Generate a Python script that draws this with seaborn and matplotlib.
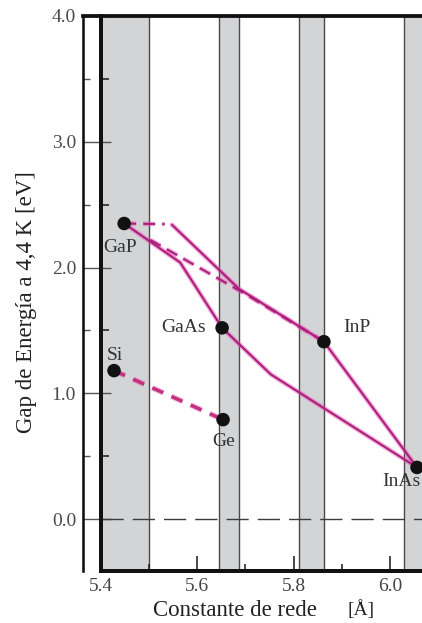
import matplotlib
matplotlib.use("Agg")
import matplotlib.pyplot as plt
import seaborn as sns
import pandas as pd

# --- data -----------------------------------------------------------------
compounds = ["Si", "Ge", "GaP", "GaAs", "InP", "InAs"]
lattice = [5.428, 5.654, 5.449, 5.652, 5.863, 6.056]     # Å
gap_ev = [1.18, 0.79, 2.35, 1.52, 1.41, 0.41]            # eV at 4.4 K

# alloy boundaries
gap_gaas_a = [5.449, 5.565, 5.652]
gap_gaas_e = [2.35, 2.04, 1.52]
gaas_inas_a = [5.652, 5.753, 6.056]
gaas_inas_e = [1.52, 1.15, 0.41]
inp_inas_a = [5.863, 6.056]
inp_inas_e = [1.41, 0.41]
gap_inp_upper_dash_a = [5.449, 5.533]
gap_inp_upper_dash_e = [2.35, 2.345]
gap_inp_upper_a = [5.548, 5.687, 5.863]
gap_inp_upper_e = [2.34, 1.83, 1.41]
gap_inp_lower_a = [5.503, 5.700, 5.863]
gap_inp_lower_e = [2.22, 1.79, 1.41]
si_ge_a = [5.428, 5.654]
si_ge_e = [1.18, 0.79]

# substrate lattice-constant windows
bands = [(5.40, 5.50), (5.645, 5.687), (5.811, 5.863), (6.029, 6.10)]

xticks_major = [5.4, 5.6, 5.8, 6.0]
xticks_minor = [5.5, 5.7, 5.9]
yticks_major = [0.0, 1.0, 2.0, 3.0, 4.0]
yticks_minor = [0.5, 1.5, 2.5, 3.5]

# --- style ----------------------------------------------------------------
sns.set_theme(style="white")
plt.rcParams["font.family"] = ["Liberation Serif", "DejaVu Serif"]
plt.rcParams["lines.scale_dashes"] = True

px = 72 / 100  # points per pixel at dpi 100

fig = plt.figure(figsize=(4.22, 6.23), dpi=100)
fig.patch.set_facecolor("white")
ax_rect = [83 / 422, 52 / 623, 339 / 422, 555 / 623]
ax = fig.add_axes(ax_rect)
ax.set_facecolor("white")

xmin, xmax = 5.3637, 6.0663
ymin, ymax = -0.4135, 4.0
ax.set_xlim(xmin, xmax)
ax.set_ylim(ymin, ymax)

# grey windows
for lo, hi in bands:
    ax.axvspan(lo, hi, facecolor="#d3d4d6", edgecolor="#4a4a4a",
               lw=1.4 * px, zorder=0)

# zero-energy reference
ax.axhline(0.0, xmin=(5.4 - xmin) / (xmax - xmin), color="#3c3c3c",
           lw=1.0, linestyle=(0, (16, 6.5)), zorder=1)

# alloy curves: a pink halo under a darker magenta core
halo = "#ec4ab4"
core = "#a81f78"


def dash(on_px, off_px, lw_px):
    lw_pt = lw_px * px
    return (0, (on_px * px / lw_pt, off_px * px / lw_pt))


def curve(a, e, dashed=False, core_w=2.0, halo_w=4.6, on=12, off=7,
          core_c=core, halo_c=halo, halo_alpha=0.5):
    ls_h = dash(on, off, halo_w) if dashed else "-"
    ls_c = dash(on, off, core_w) if dashed else "-"
    sns.lineplot(x=a, y=e, sort=False, estimator=None, ax=ax, color=halo_c,
                 lw=halo_w * px, alpha=halo_alpha, linestyle=ls_h, zorder=2)
    sns.lineplot(x=a, y=e, sort=False, estimator=None, ax=ax, color=core_c,
                 lw=core_w * px, linestyle=ls_c, zorder=3)


curve(gap_gaas_a, gap_gaas_e)
curve(gaas_inas_a, gaas_inas_e)
curve(inp_inas_a, inp_inas_e)
curve(gap_inp_upper_a, gap_inp_upper_e)
curve(gap_inp_upper_dash_a, gap_inp_upper_dash_e, dashed=True)
curve(gap_inp_lower_a, gap_inp_lower_e, dashed=True)

# Si-Ge line: thicker dashes
curve(si_ge_a, si_ge_e, dashed=True, core_w=3.4, halo_w=5.6, on=12, off=9,
      core_c="#c2307f", halo_c="#e458ae", halo_alpha=0.45)

# compounds
pts = pd.DataFrame({"a": lattice, "E": gap_ev, "name": compounds})
sns.scatterplot(data=pts, x="a", y="E", ax=ax, color="#111111", s=95,
                edgecolor="none", zorder=5, clip_on=False)

label_offsets = {
    "Si": (1, 15, "center", "center"),
    "Ge": (1, -22, "center", "center"),
    "GaP": (-4, -24, "center", "center"),
    "GaAs": (-16, 0, "right", "center"),
    "InP": (19, 14, "left", "center"),
    "InAs": (3, -14, "right", "center"),
}
for name, a, e in zip(compounds, lattice, gap_ev):
    dx, dy, ha, va = label_offsets[name]
    ax.annotate(name, (a, e), xytext=(dx, dy), textcoords="offset pixels",
                ha=ha, va=va, fontsize=14, color="#333333", zorder=6)

# axes frame
ax.spines["right"].set_visible(False)
ax.spines["left"].set_linewidth(2.6 * px)
ax.spines["top"].set_linewidth(3.8 * px)
ax.spines["bottom"].set_linewidth(4.0 * px)
for side in ("left", "top", "bottom"):
    ax.spines[side].set_color("#111111")
ax.spines["bottom"].set_bounds(5.4, xmax)

ax.set_xticks(xticks_major)
ax.set_xticklabels([f"{v:.1f}" for v in xticks_major])
ax.set_xticks(xticks_minor, minor=True)
ax.set_yticks(yticks_major)
ax.set_yticklabels([f"{v:.1f}" for v in yticks_major])
ax.set_yticks(yticks_minor, minor=True)

ax.tick_params(axis="x", which="major", direction="in", length=15 * px,
               width=1.6 * px, color="#222222", labelsize=14,
               labelcolor="#444444", pad=5, bottom=True)
ax.tick_params(axis="x", which="minor", direction="in", length=7 * px,
               width=1.6 * px, color="#222222", bottom=True)
ax.tick_params(axis="y", which="major", direction="in", length=28 * px,
               width=1.4 * px, color="#555555", labelsize=14,
               labelcolor="#4a4a4a", pad=5, left=True)
ax.tick_params(axis="y", which="minor", direction="in", length=7 * px,
               width=1.4 * px, color="#555555", left=True)

ax.set_xlabel("Constante de rede", fontsize=16.5, color="#222222")
ax.xaxis.set_label_coords((235 - 83) / 339, -0.052)
ax.set_ylabel("Gap de Energía a 4,4 K [eV]", fontsize=16.5, color="#222222")
ax.yaxis.set_label_coords(-0.135, (571 - 302) / 555)
ax.text((361 - 83) / 339, -0.052, "[Å]", transform=ax.transAxes,
        ha="center", va="top", fontsize=14, color="#222222")

# inner energy axis standing at a = 5.4 Å
x_inner = ax_rect[0] + (5.4 - xmin) / (xmax - xmin) * ax_rect[2]
inner = fig.add_axes([x_inner, ax_rect[1], 1e-4, ax_rect[3]])
inner.set_ylim(ymin, ymax)
inner.set_zorder(3)
inner.patch.set_visible(False)
for side in ("right", "top", "bottom"):
    inner.spines[side].set_visible(False)
inner.spines["left"].set_linewidth(4.0 * px)
inner.spines["left"].set_color("#111111")
inner.set_xticks([])
inner.set_yticks(yticks_minor)
inner.tick_params(axis="y", which="major", direction="in", length=8 * px,
                  width=1.8 * px, color="#333333", left=True,
                  labelleft=False)

fig.savefig("out.png", dpi=100, facecolor="white")
